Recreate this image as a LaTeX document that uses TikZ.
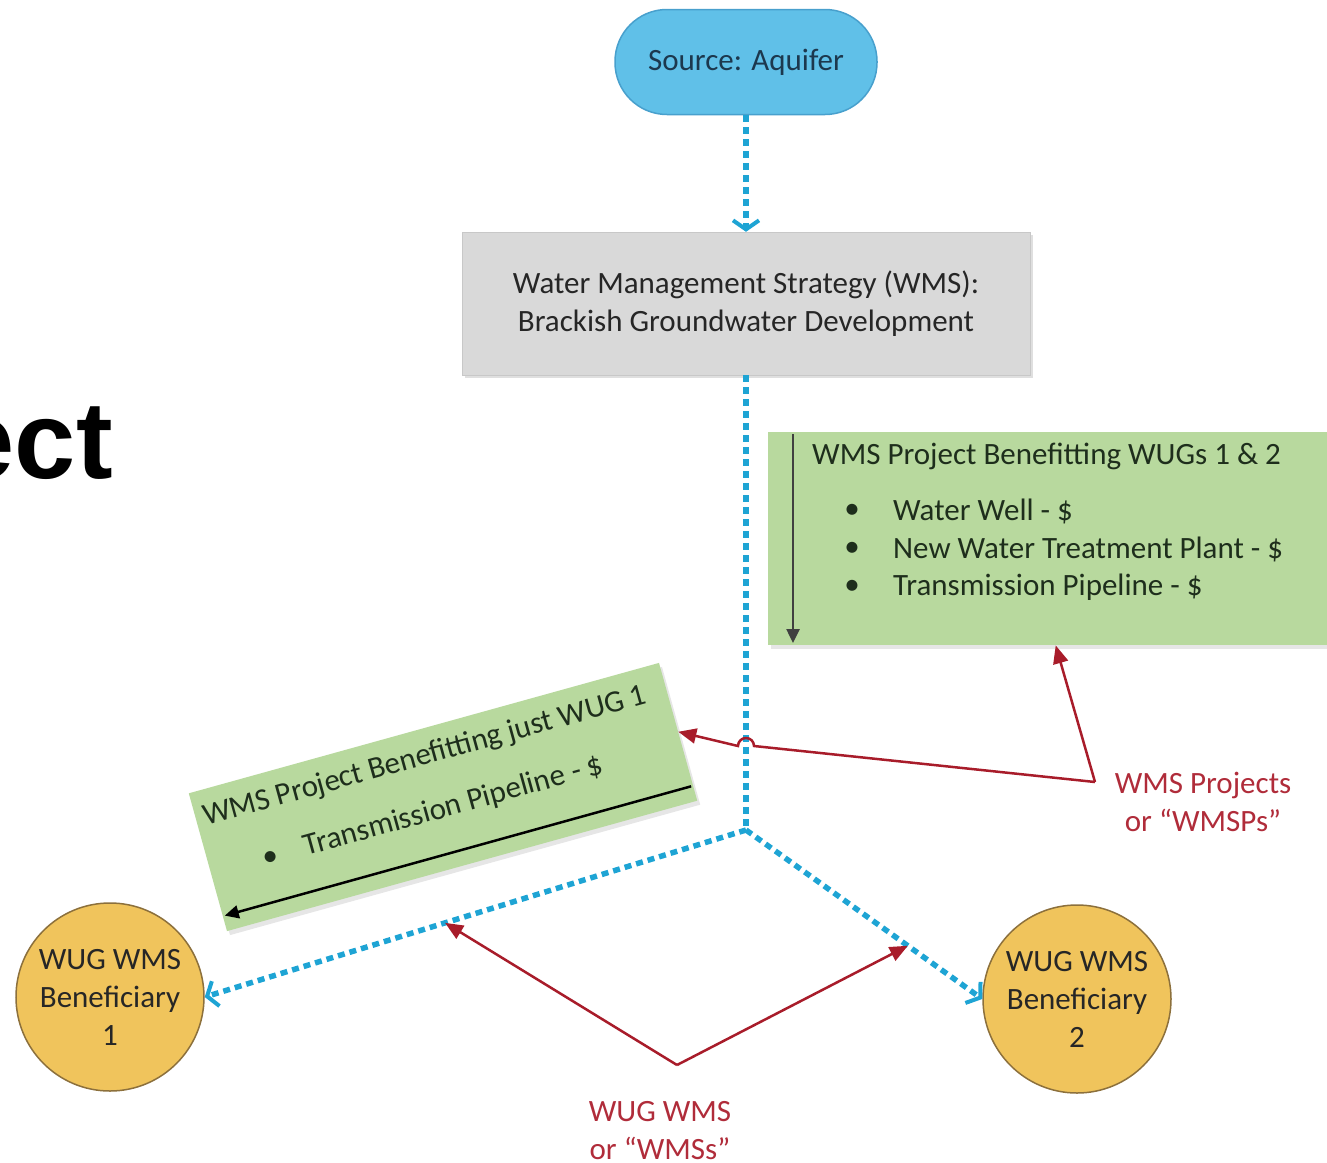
\documentclass[tikz,border=0pt]{standalone}
\usepackage{fontspec}
\setmainfont{Carlito}
\newfontfamily\headfont{Liberation Sans}
\usetikzlibrary{arrows.meta,calc,shadows}
\definecolor{aquablue}{RGB}{96,192,232}
\definecolor{aquaedge}{RGB}{72,160,205}
\definecolor{aquaink}{RGB}{28,56,78}
\definecolor{flowblue}{RGB}{30,164,212}
\definecolor{boxgray}{RGB}{217,217,217}
\definecolor{boxedge}{RGB}{200,200,200}
\definecolor{boxgreen}{RGB}{184,217,158}
\definecolor{inkgreen}{RGB}{30,46,28}
\definecolor{benefgold}{RGB}{240,196,92}
\definecolor{benefedge}{RGB}{140,112,60}
\definecolor{ptrred}{RGB}{168,28,42}
\definecolor{labelred}{RGB}{176,44,58}
\tikzset{
  bodyfont/.style={font=\fontsize{31}{38}\selectfont},
  source/.style={bodyfont, draw=aquaedge, line width=1.5pt, fill=aquablue, text=aquaink,
    rounded corners=52pt, minimum width=262pt, minimum height=105pt},
  wmsbox/.style={bodyfont, draw=boxedge, fill=boxgray, text=black!85, align=center,
    minimum width=568pt, minimum height=143pt,
    drop shadow={shadow xshift=3pt, shadow yshift=-3pt, opacity=0.25}},
  greenbox/.style={fill=boxgreen, inner sep=0pt,
    drop shadow={shadow xshift=3pt, shadow yshift=-4pt, opacity=0.2}},
  greentext/.style={bodyfont, text=inkgreen, inner sep=0pt},
  benef/.style={bodyfont, circle, draw=benefedge, line width=1.5pt, fill=benefgold,
    text=black!85, align=center, minimum size=188pt, inner sep=0pt},
  blueflow/.style={flowblue, line width=5.5pt, dash pattern=on 7pt off 5pt,
    -{Straight Barb[length=9pt,width=26pt,line width=4pt]}},
  redptr/.style={ptrred, line width=2.5pt, -{Triangle[length=18pt,width=15pt]}},
  darkptr/.style={line width=2.5pt, -{Triangle[length=14pt,width=13pt]}},
  redlabel/.style={bodyfont, text=labelred, align=center},
}
\begin{document}
\begin{tikzpicture}[x=1pt,y=-1pt]
  \useasboundingbox (0,0) rectangle (1327,1162);
  \clip (0,0) rectangle (1327,1162);
  % cut-off heading at the left
  \node[font=\headfont\bfseries\fontsize{110}{110}\selectfont, anchor=base east, inner sep=0pt] (headcut) at (113,478) {ect};
  % source and strategy
  \node[source] (aquifer) at (746,62) {Source: Aquifer};
  \node[wmsbox] (wms) at (746,303.5) {Water Management Strategy (WMS):\\Brackish Groundwater Development};
  \draw[blueflow] (aquifer) -- (wms);
  \coordinate (split) at (746,830);
  \draw[flowblue, line width=5.5pt, dash pattern=on 7pt off 5pt] (wms) -- (split);
  % project for WUGs 1 & 2
  \node[greenbox, anchor=north west, minimum width=575pt, minimum height=213pt] (proj12) at (768,432) {};
  \node[greentext, anchor=west] (proj12title) at (812,456) {WMS Project Benefitting WUGs 1 \& 2};
  \foreach \yy/\item in {511/Water Well - \$, 549/New Water Treatment Plant - \$, 587/Transmission Pipeline - \$}{
    \node[greentext] at (852,\yy) {\textbullet};
    \node[greentext, anchor=west] at (893,\yy) {\item};
  }
  \draw[darkptr, black!75] (793,434) -- (793,643);
  % project for WUG 1 only
  \begin{scope}[shift={(443,797)}, rotate=15.5, transform shape]
    \node[greenbox, minimum width=488pt, minimum height=143pt] (proj1) at (0,0) {};
    \node[greentext, anchor=west, align=left] (proj1text) at (-236,-16)
      {WMS Project Benefitting just WUG 1\\[18pt]\hspace*{54pt}\makebox[0pt]{\textbullet}\hspace{35pt}Transmission Pipeline - \$};
    \draw[darkptr, black] (242,56) -- (-242,56);
  \end{scope}
  % beneficiaries
  \node[benef] (benef1) at (110,997) {WUG WMS\\Beneficiary\\1};
  \node[benef] (benef2) at (1077,999) {WUG WMS\\Beneficiary\\2};
  \draw[blueflow] (split) -- (benef1.east);
  \draw[blueflow] (split) -- (benef2.west);
  % red call-outs
  \node[redlabel] (wmsplabel) at (1203,802) {WMS Projects\\or “WMSPs”};
  \coordinate (wmspv) at (1095,782);
  \draw[redptr] (wmspv) -- (proj12.south);
  \draw[redptr] (wmspv) -- (754,746) arc[start angle=0, end angle=-180, radius=8] -- (proj1.east);
  \node[redlabel] (wmslabel) at (660,1131) {WUG WMS\\or “WMSs”};
  \coordinate (wmsv) at (677,1065);
  \draw[redptr] (wmsv) -- ($(split)!0.556!(benef1.east)$);
  \draw[redptr] (wmsv) -- ($(split)!0.685!(benef2.west)$);
\end{tikzpicture}
\end{document}
